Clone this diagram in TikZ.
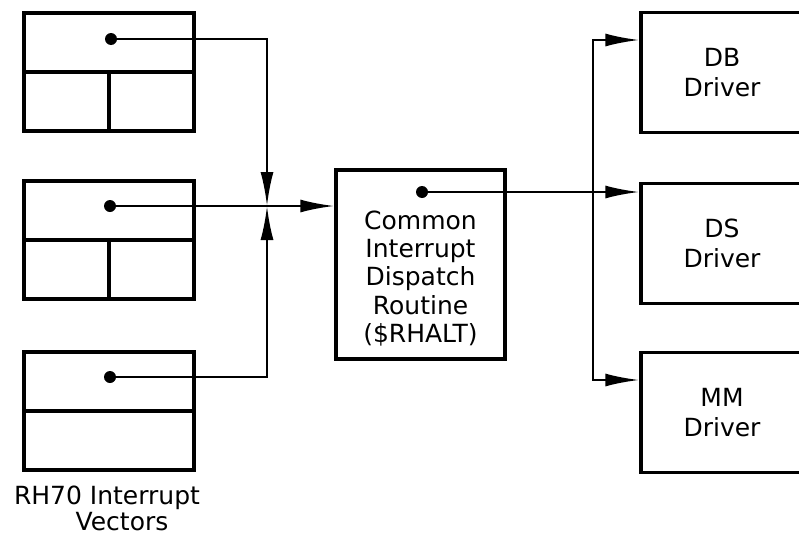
\documentclass[tikz,border=0pt]{standalone}
\usepackage{fontspec}
\setmainfont{DejaVu Sans}
\usetikzlibrary{arrows.meta,calc}
\begin{document}
\begin{tikzpicture}[x=1pt,y=-1pt,
  box/.style={draw,line width=3.5pt,inner sep=0pt},
  vecbox/.style={box,minimum width=170pt,minimum height=118pt},
  drvbox/.style={box,minimum width=162pt,minimum height=120pt,
    font=\fontsize{25}{30}\selectfont,align=center},
  divider/.style={line width=3.3pt},
  wire/.style={line width=2.4pt},
  arr/.style={wire,-{Latex[length=34pt,width=13pt]}},
  dotmark/.style={circle,fill,inner sep=0pt,minimum size=12pt},
  txt/.style={inner sep=0pt,align=center}]
\useasboundingbox (0,0) rectangle (799,538);
\clip (0,0) rectangle (799,538);

% interrupt vector tables
\node[vecbox] (v1) at (109,72) {};
\node[vecbox] (v2) at (109,240) {};
\node[vecbox] (v3) at (109,411) {};
\draw[divider] (v1.west) -- (v1.east) (v1.center) -- (v1.south);
\draw[divider] (v2.west) -- (v2.east) (v2.center) -- (v2.south);
\draw[divider] (v3.west) -- (v3.east);
\node[dotmark] (d1) at (111,39) {};
\node[dotmark] (d2) at (110,206) {};
\node[dotmark] (d3) at (110,377) {};

\node[txt,anchor=north,font=\fontsize{25}{26}\selectfont] (lbl) at (107,486)
  {RH70 Interrupt\\\hspace*{30pt}Vectors};

% dispatcher
\node[box,minimum width=169pt,minimum height=189pt] (disp) at (420.5,264.5) {};
\node[txt,anchor=north,font=\fontsize{25}{28.25}\selectfont] (disptxt) at (420.5,210.5)
  {Common\\Interrupt\\Dispatch\\Routine\\(\$RHALT)};
\node[dotmark] (dd) at (422,192) {};

% drivers
\node[drvbox] (db) at (722,72.5) {DB\\Driver};
\node[drvbox] (ds) at (722,243.5) {DS\\Driver};
\node[drvbox] (mm) at (722,412.5) {MM\\Driver};

% junction points
\coordinate (jn) at (267,206);
\coordinate (bus) at (593,192);

% vectors into the dispatcher
\draw[arr] (d1.center) -| (jn);
\draw[arr] (d3.center) -| (jn);
\draw[arr] (d2.center) -- (disp.west |- d2);

% dispatcher out to drivers
\draw[arr] (dd.center) -- (ds.west |- dd);
\draw[arr] (bus) |- (db.west |- 0,40);
\draw[arr] (bus) |- (mm.west |- 0,380);
\end{tikzpicture}
\end{document}
